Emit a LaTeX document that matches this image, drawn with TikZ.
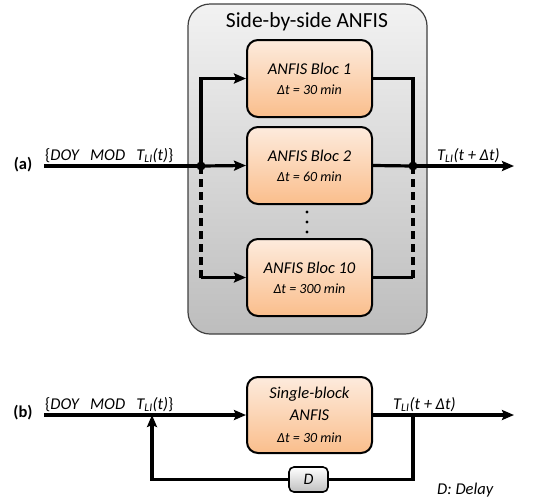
\documentclass[tikz,border=0pt]{standalone}
\usepackage{fontspec}
\setmainfont{Carlito}
\usetikzlibrary{arrows.meta}

\definecolor{blocTop}{HTML}{FDEBDD}
\definecolor{blocBot}{HTML}{FABE8C}
\definecolor{sideTop}{HTML}{F2F2F2}
\definecolor{sideBot}{HTML}{BDBDBD}

\begin{document}
\begin{tikzpicture}[
  x=1pt,
  y=-1pt,
  side/.style={draw=black!75,line width=1.2pt,rounded corners=22pt,top color=sideTop,bottom color=sideBot},
  bloc/.style={draw=black,line width=2pt,rounded corners=11pt,top color=blocTop,bottom color=blocBot,
    minimum width=125pt,minimum height=77pt,inner sep=0pt,align=center,font=\fontsize{16.5}{20}\selectfont\itshape},
  small/.style={font=\fontsize{14}{16}\selectfont\itshape},
  delay/.style={draw=black,line width=1.6pt,rounded corners=5pt,top color=white,bottom color=black!25,
    minimum width=39pt,minimum height=25pt,inner sep=0pt,font=\fontsize{16}{18}\selectfont\itshape},
  wire/.style={line width=3.2pt},
  flow/.style={wire,-{Stealth[length=12pt,width=10pt,inset=2pt]}},
  maybe/.style={wire,dash pattern=on 8pt off 5pt},
  joint/.style={fill=black},
  lab/.style={font=\fontsize{16.5}{18}\selectfont,anchor=base west,inner sep=0pt},
  tag/.style={font=\fontsize{16.5}{18}\selectfont\bfseries}
]
\useasboundingbox (0,0) rectangle (549,499);

% (a) side-by-side
\path[side] (188,4) rectangle (427,334);
\node[font=\fontsize{21.5}{24}\selectfont] (title) at (307,22) {Side-by-side ANFIS};

\node[bloc] (bloc1) at (309.5,78.5) {ANFIS Bloc 1\\{\fontsize{14}{16}\selectfont Δt = 30 min}};
\node[bloc] (bloc2) at (309.5,165.5) {ANFIS Bloc 2\\{\fontsize{14}{16}\selectfont Δt = 60 min}};
\node[bloc] (bloc10) at (309.5,277.5) {ANFIS Bloc 10\\{\fontsize{14}{16}\selectfont Δt = 300 min}};
\foreach \y in {212,222,232}
  \fill (307,\y) circle[radius=1.7pt];

\coordinate (inA) at (44,166);
\coordinate (outA) at (514,166);
\coordinate (splitA) at (201,166);
\coordinate (joinA) at (413,166);

\draw[wire] (inA) -- (splitA);
\draw[flow] (splitA) -- (bloc2.west);
\draw[flow] (splitA) |- (bloc1.west);
\draw[wire] (bloc1.east) -| (joinA);
\draw[maybe] (splitA) -- (splitA |- bloc10.west);
\draw[flow] (splitA |- bloc10.west) -- (bloc10.west);
\draw[wire] (bloc2.east) -- (joinA);
\draw[wire] (bloc10.east) -- (joinA |- bloc10.east);
\draw[maybe] (joinA |- bloc10.east) -- (joinA);
\draw[flow] (joinA) -- (outA);
\fill[joint] (splitA) circle[radius=4.5pt];
\fill[joint] (joinA) circle[radius=4.5pt];

\node[tag] (tagA) at (23,165) {(a)};
\node[lab] (inLabA) at (45,160) {\{\textit{DOY\ \ \ MOD\ \ \ T\textsubscript{LI}(t)}\}};
\node[lab] (outLabA) at (437,160) {\textit{T\textsubscript{LI}(t + Δt)}};

% (b) single block with feedback
\node[bloc,minimum height=76pt,font=\fontsize{16.5}{22}\selectfont\itshape] (single) at (309.5,415)
  {Single-block\\ANFIS\\{\fontsize{14}{16}\selectfont Δt = 30 min}};
\node[delay] (dly) at (308.5,479.5) {D};

\coordinate (inB) at (44,415);
\coordinate (outB) at (514,415);
\coordinate (backB) at (152,415);
\coordinate (tapB) at (413,415);

\draw[flow] (inB) -- (single.west);
\draw[flow] (single.east) -- (outB);
\draw[wire] (tapB) |- (dly.east);
\draw[flow] (dly.west) -| (backB);

\node[tag] (tagB) at (23,413) {(b)};
\node[lab] (inLabB) at (45,409) {\{\textit{DOY\ \ \ MOD\ \ \ T\textsubscript{LI}(t)}\}};
\node[lab] (outLabB) at (393,409) {\textit{T\textsubscript{LI}(t + Δt)}};
\node[lab,font=\fontsize{16.5}{18}\selectfont\itshape] (note) at (437,494) {D: Delay};
\end{tikzpicture}
\end{document}
